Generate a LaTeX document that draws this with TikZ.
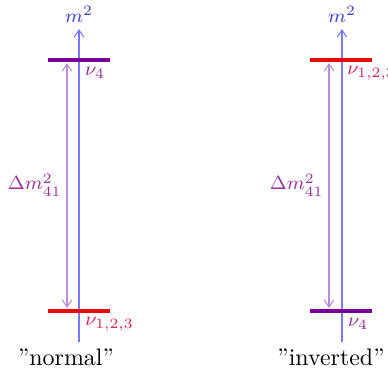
\documentclass[tikz,border=0pt]{standalone}
\usetikzlibrary{arrows.meta}
\definecolor{axisblue}{RGB}{120,120,250}
\definecolor{mblue}{RGB}{60,60,210}
\definecolor{lvlpurple}{RGB}{120,0,150}
\definecolor{lblpurple}{RGB}{150,50,150}
\definecolor{lvlred}{RGB}{235,10,10}
\definecolor{lblred}{RGB}{215,40,80}
\definecolor{arrpurple}{RGB}{185,140,215}
\begin{document}
\begin{tikzpicture}[x=0.418pt,y=-0.418pt,
  axis/.style={draw=axisblue,line width=0.45pt,-{Straight Barb[length=3pt,width=4pt]}},
  level/.style={line width=1.3pt},
  gap/.style={draw=arrpurple,line width=0.45pt,{Straight Barb[length=3pt,width=4pt]}-{Straight Barb[length=3pt,width=4pt]}},
  lbl/.style={inner sep=0pt},
  mlbl/.style={inner sep=0pt,font=\fontsize{8.4}{10}\selectfont}]
\useasboundingbox (0,0) rectangle (388,383);
% left: normal
\coordinate (la0) at (79,342);
\coordinate (la1) at (79,29);
\draw[axis] (la0) -- (la1);
\node[mlbl,text=mblue] (lm) at (79,14) {$m^2$};
\coordinate (l4a) at (48,60); \coordinate (l4b) at (110,60);
\draw[level,lvlpurple] (l4a) -- (l4b);
\node[mlbl,text=lblpurple] (lnu4) at (95,73) {$\nu_4$};
\coordinate (lra) at (48,311); \coordinate (lrb) at (110,311);
\draw[level,lvlred] (lra) -- (lrb);
\node[mlbl,text=lblred,anchor=west] (lnu123) at (85,324) {$\nu_{1,2,3}$};
\coordinate (lg0) at (67,63); \coordinate (lg1) at (67,308);
\draw[gap] (lg0) -- (lg1);
\node[mlbl,text=lblpurple,anchor=east] (ldm) at (62,185) {$\Delta m^2_{41}$};
\node[lbl] (lnormal) at (66,357) {"normal"};
% right: inverted
\coordinate (ra0) at (342,342);
\coordinate (ra1) at (342,29);
\draw[axis] (ra0) -- (ra1);
\node[mlbl,text=mblue] (rm) at (342,14) {$m^2$};
\coordinate (rra) at (310,60); \coordinate (rrb) at (372,60);
\draw[level,lvlred] (rra) -- (rrb);
\node[mlbl,text=lblred,anchor=west] (rnu123) at (347,73) {$\nu_{1,2,3}$};
\coordinate (r4a) at (310,311); \coordinate (r4b) at (372,311);
\draw[level,lvlpurple] (r4a) -- (r4b);
\node[mlbl,text=lblpurple] (rnu4) at (358,324) {$\nu_4$};
\coordinate (rg0) at (329,63); \coordinate (rg1) at (329,308);
\draw[gap] (rg0) -- (rg1);
\node[mlbl,text=lblpurple,anchor=east] (rdm) at (324,185) {$\Delta m^2_{41}$};
\node[lbl] (rinv) at (331,357) {"inverted"};
\end{tikzpicture}
\end{document}
